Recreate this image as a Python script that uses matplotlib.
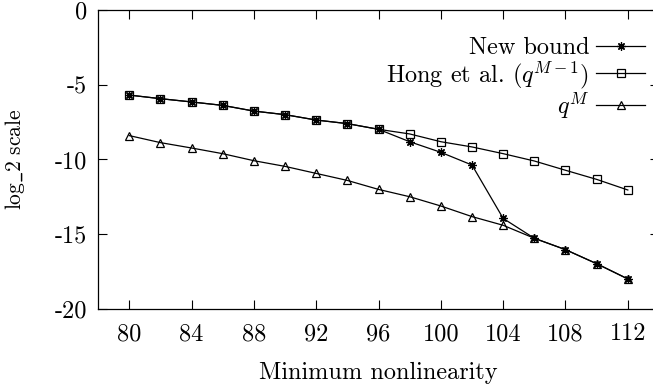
import matplotlib
matplotlib.use("Agg")
import matplotlib.pyplot as plt

plt.rcParams['font.family'] = ['cmr10', 'DejaVu Serif']
plt.rcParams['mathtext.fontset'] = 'cm'
plt.rcParams['axes.unicode_minus'] = False

x = [80, 82, 84, 86, 88, 90, 92, 94, 96, 98, 100, 102, 104, 106, 108, 110, 112]
new_bound = [-5.69, -5.93, -6.15, -6.38, -6.76, -7.0, -7.36, -7.6, -7.98,
             -8.81, -9.52, -10.37, -13.94, -15.27, -16.03, -16.97, -17.99]
hong = [-5.69, -5.93, -6.15, -6.38, -6.76, -7.0, -7.36, -7.6, -7.98,
        -8.29, -8.81, -9.16, -9.61, -10.1, -10.72, -11.33, -12.04]
q_m = [-8.4, -8.87, -9.23, -9.61, -10.08, -10.46, -10.93, -11.4, -12.0,
       -12.49, -13.11, -13.82, -14.4, -15.27, -16.03, -16.97, -17.99]

xticks = [80, 84, 88, 92, 96, 100, 104, 108, 112]
yticks = [0, -5, -10, -15, -20]
ytick_labels = ["0", "-5", "-10", "-15", "-20"]

FS = 17.5

fig = plt.figure(figsize=(6.53, 3.90), dpi=100)
W, H = 653, 390
ax = fig.add_axes([98 / W, 1 - 309 / H, (659 - 98) / W, (309 - 10) / H])

lw = 0.9
ax.plot(x, new_bound, color='black', lw=lw, marker=(8, 2, 0), ms=6, mew=0.9,
        label='New bound')
ax.plot(x, hong, color='black', lw=lw, marker='s', ms=5.5, mfc='none', mew=0.9,
        label='Hong et al. ($q^{M-1}$)')
ax.plot(x, q_m, color='black', lw=lw, marker='^', ms=5.5, mfc='none', mew=0.9,
        label='$q^M$')

ax.set_xlim(78, 114)
ax.set_ylim(-20, 0)
ax.set_xticks(xticks)
ax.set_xticklabels([str(v) for v in xticks])
ax.set_yticks(yticks)
ax.set_yticklabels(ytick_labels)
ax.tick_params(direction='in', length=6.5, width=0.8, top=True, right=True,
               labelsize=FS)
ax.tick_params(axis='x', pad=10)
ax.tick_params(axis='y', pad=8)
for s in ax.spines.values():
    s.set_linewidth(0.9)

ax.set_xlabel('Minimum nonlinearity', fontsize=FS, labelpad=12)
ax.set_ylabel(r'$\mathrm{log\_2\ scale}$', fontsize=15.5, labelpad=20)

ax.legend(loc='upper right', bbox_to_anchor=(0.975, 0.91), frameon=False,
          markerfirst=False, fontsize=FS, borderaxespad=0, borderpad=0,
          handlelength=2.0, handletextpad=0.3, labelspacing=0.0)

fig.savefig('out.png', dpi=100)
